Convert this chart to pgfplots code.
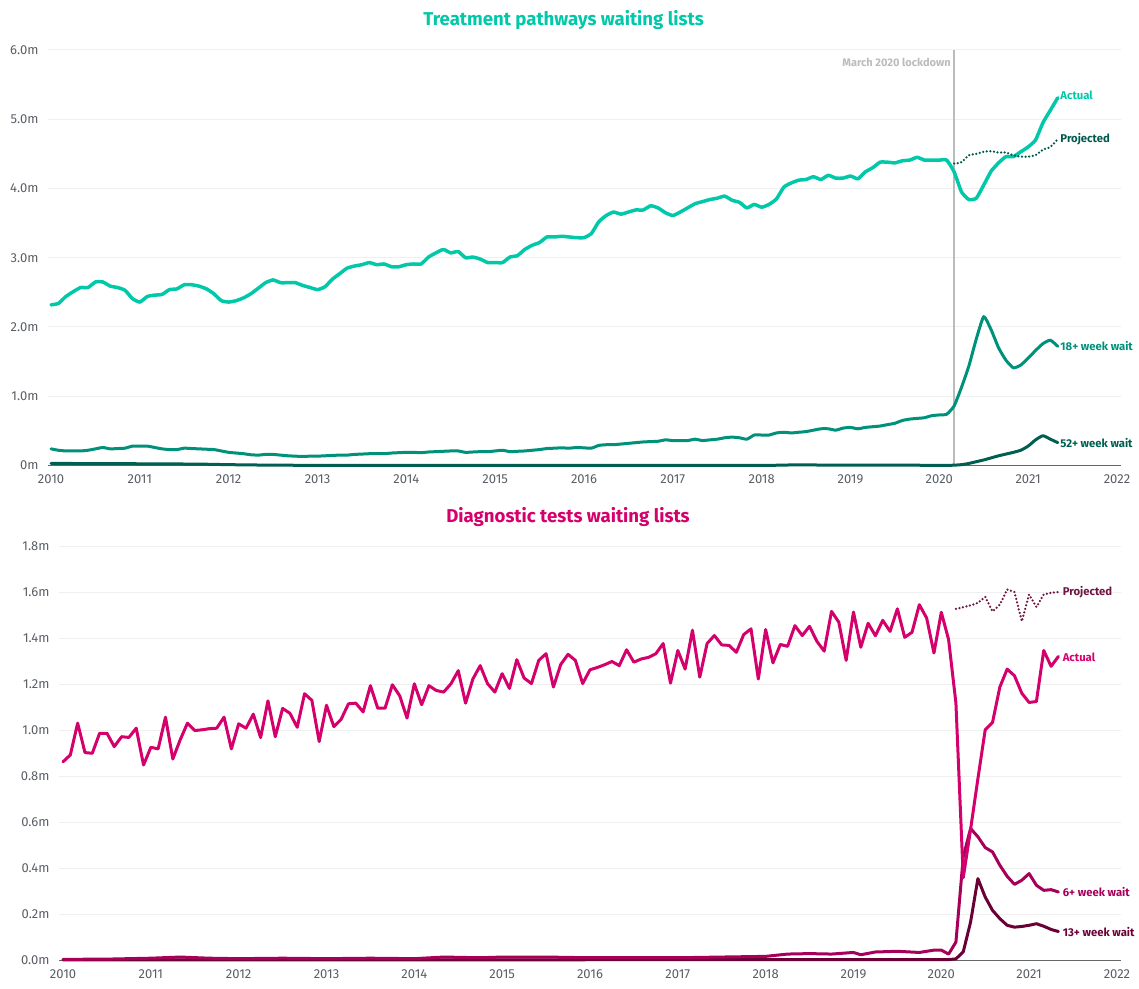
\documentclass[border=0pt]{standalone}
\usepackage{fontspec}
\setmainfont{Fira Sans}
\usepackage{pgfplots}
\usepackage{pgfplotstable}
\pgfplotsset{compat=1.18}

\definecolor{cTeal}{HTML}{00C8A8}
\definecolor{cTeal18}{HTML}{00917B}
\definecolor{cTeal52}{HTML}{005F50}
\definecolor{cTealProj}{HTML}{005A4C}
\definecolor{cMag}{HTML}{D4006C}
\definecolor{cMag6}{HTML}{A6005A}
\definecolor{cMag13}{HTML}{6B0036}
\definecolor{cMagProj}{HTML}{6E1541}
\definecolor{cGrid}{HTML}{EFEFEF}
\definecolor{cAxis}{HTML}{666666}
\definecolor{cTick}{HTML}{5A5F66}
\definecolor{cLock}{HTML}{BBBBBB}

% treatment pathways, month index from Jan 2010, value in millions
\pgfplotstableread[row sep=\\]{
i v\\
0 2.32\\ 1 2.34\\ 2 2.44\\ 3 2.51\\ 4 2.57\\ 5 2.57\\ 6 2.65\\ 7 2.65\\ 8 2.59\\ 9 2.57\\ 10 2.53\\ 11 2.41\\
12 2.36\\ 13 2.44\\ 14 2.46\\ 15 2.47\\ 16 2.54\\ 17 2.55\\ 18 2.61\\ 19 2.61\\ 20 2.59\\ 21 2.55\\ 22 2.48\\ 23 2.38\\
24 2.36\\ 25 2.38\\ 26 2.42\\ 27 2.48\\ 28 2.56\\ 29 2.64\\ 30 2.68\\ 31 2.64\\ 32 2.64\\ 33 2.64\\ 34 2.60\\ 35 2.57\\
36 2.54\\ 37 2.58\\ 38 2.69\\ 39 2.77\\ 40 2.85\\ 41 2.88\\ 42 2.90\\ 43 2.93\\ 44 2.90\\ 45 2.91\\ 46 2.87\\ 47 2.87\\
48 2.90\\ 49 2.91\\ 50 2.91\\ 51 3.01\\ 52 3.07\\ 53 3.12\\ 54 3.07\\ 55 3.09\\ 56 3.00\\ 57 3.01\\ 58 2.98\\ 59 2.93\\
60 2.93\\ 61 2.93\\ 62 3.01\\ 63 3.03\\ 64 3.12\\ 65 3.18\\ 66 3.22\\ 67 3.30\\ 68 3.30\\ 69 3.31\\ 70 3.30\\ 71 3.29\\
72 3.29\\ 73 3.35\\ 74 3.52\\ 75 3.61\\ 76 3.66\\ 77 3.63\\ 78 3.66\\ 79 3.69\\ 80 3.69\\ 81 3.75\\ 82 3.72\\ 83 3.65\\
84 3.61\\ 85 3.66\\ 86 3.72\\ 87 3.78\\ 88 3.81\\ 89 3.84\\ 90 3.86\\ 91 3.89\\ 92 3.83\\ 93 3.80\\ 94 3.72\\ 95 3.77\\
96 3.73\\ 97 3.77\\ 98 3.85\\ 99 4.02\\ 100 4.08\\ 101 4.12\\ 102 4.13\\ 103 4.17\\ 104 4.13\\ 105 4.19\\ 106 4.15\\ 107 4.15\\
108 4.18\\ 109 4.14\\ 110 4.24\\ 111 4.30\\ 112 4.38\\ 113 4.38\\ 114 4.37\\ 115 4.40\\ 116 4.41\\ 117 4.45\\ 118 4.41\\ 119 4.41\\
120 4.41\\ 121 4.41\\ 122 4.24\\ 123 3.95\\ 124 3.84\\ 125 3.86\\ 126 4.05\\ 127 4.25\\ 128 4.37\\ 129 4.46\\ 130 4.46\\ 131 4.53\\
132 4.60\\ 133 4.70\\ 134 4.95\\ 135 5.13\\ 136 5.31\\
}\topActual

\pgfplotstableread[row sep=\\]{
i v\\
0 0.24\\ 1 0.22\\ 2 0.21\\ 3 0.21\\ 4 0.21\\ 5 0.22\\ 6 0.24\\ 7 0.26\\ 8 0.24\\ 9 0.245\\ 10 0.25\\ 11 0.28\\
12 0.28\\ 13 0.28\\ 14 0.26\\ 15 0.24\\ 16 0.23\\ 17 0.23\\ 18 0.25\\ 19 0.245\\ 20 0.24\\ 21 0.235\\ 22 0.23\\ 23 0.21\\
24 0.19\\ 25 0.18\\ 26 0.17\\ 27 0.155\\ 28 0.15\\ 29 0.16\\ 30 0.16\\ 31 0.15\\ 32 0.14\\ 33 0.135\\ 34 0.13\\ 35 0.135\\
36 0.135\\ 37 0.14\\ 38 0.145\\ 39 0.15\\ 40 0.15\\ 41 0.16\\ 42 0.165\\ 43 0.17\\ 44 0.17\\ 45 0.17\\ 46 0.18\\ 47 0.185\\
48 0.19\\ 49 0.19\\ 50 0.185\\ 51 0.195\\ 52 0.20\\ 53 0.205\\ 54 0.21\\ 55 0.21\\ 56 0.19\\ 57 0.195\\ 58 0.20\\ 59 0.20\\
60 0.21\\ 61 0.22\\ 62 0.20\\ 63 0.205\\ 64 0.21\\ 65 0.22\\ 66 0.23\\ 67 0.245\\ 68 0.25\\ 69 0.255\\ 70 0.25\\ 71 0.26\\
72 0.255\\ 73 0.25\\ 74 0.29\\ 75 0.30\\ 76 0.30\\ 77 0.31\\ 78 0.32\\ 79 0.33\\ 80 0.34\\ 81 0.345\\ 82 0.35\\ 83 0.37\\
84 0.36\\ 85 0.36\\ 86 0.36\\ 87 0.38\\ 88 0.36\\ 89 0.37\\ 90 0.38\\ 91 0.40\\ 92 0.41\\ 93 0.40\\ 94 0.38\\ 95 0.44\\
96 0.44\\ 97 0.44\\ 98 0.47\\ 99 0.48\\ 100 0.47\\ 101 0.48\\ 102 0.49\\ 103 0.51\\ 104 0.53\\ 105 0.53\\ 106 0.51\\ 107 0.54\\
108 0.55\\ 109 0.53\\ 110 0.55\\ 111 0.56\\ 112 0.57\\ 113 0.59\\ 114 0.61\\ 115 0.65\\ 116 0.67\\ 117 0.68\\ 118 0.69\\ 119 0.72\\
120 0.73\\ 121 0.74\\ 122 0.86\\ 123 1.13\\ 124 1.44\\ 125 1.83\\ 126 2.15\\ 127 1.96\\ 128 1.70\\ 129 1.52\\ 130 1.41\\ 131 1.45\\
132 1.55\\ 133 1.66\\ 134 1.76\\ 135 1.81\\ 136 1.72\\
}\topEighteen

\pgfplotstableread[row sep=\\]{
i v\\
0 0.03\\ 12 0.025\\ 20 0.02\\ 24 0.012\\ 30 0.005\\ 40 0.002\\ 96 0.003\\ 100 0.008\\ 110 0.005\\ 121 0.003\\
122 0.005\\ 123 0.012\\ 124 0.03\\ 125 0.055\\ 126 0.08\\ 127 0.11\\ 128 0.14\\ 129 0.165\\ 130 0.19\\ 131 0.22\\
132 0.28\\ 133 0.37\\ 134 0.43\\ 135 0.38\\ 136 0.33\\
}\topFiftyTwo

\pgfplotstableread[row sep=\\]{
i v\\
122 4.36\\ 123 4.38\\ 124 4.48\\ 125 4.50\\ 126 4.53\\ 127 4.54\\ 128 4.52\\ 129 4.52\\ 130 4.48\\ 131 4.46\\
132 4.46\\ 133 4.48\\ 134 4.56\\ 135 4.60\\ 136 4.71\\
}\topProjected

% diagnostic tests
\pgfplotstableread[row sep=\\]{
i v\\
0 0.864\\ 1 0.894\\ 2 1.032\\ 3 0.904\\ 4 0.901\\ 5 0.988\\ 6 0.988\\ 7 0.930\\ 8 0.973\\ 9 0.970\\ 10 1.010\\ 11 0.850\\
12 0.927\\ 13 0.920\\ 14 1.058\\ 15 0.876\\ 16 0.959\\ 17 1.032\\ 18 1.000\\ 19 1.003\\ 20 1.008\\ 21 1.010\\ 22 1.058\\ 23 0.920\\
24 1.029\\ 25 1.010\\ 26 1.071\\ 27 0.969\\ 28 1.129\\ 29 0.973\\ 30 1.096\\ 31 1.075\\ 32 1.014\\ 33 1.160\\ 34 1.131\\ 35 0.952\\
36 1.110\\ 37 1.017\\ 38 1.049\\ 39 1.116\\ 40 1.119\\ 41 1.081\\ 42 1.195\\ 43 1.097\\ 44 1.097\\ 45 1.199\\ 46 1.151\\ 47 1.054\\
48 1.203\\ 49 1.112\\ 50 1.195\\ 51 1.174\\ 52 1.167\\ 53 1.203\\ 54 1.260\\ 55 1.119\\ 56 1.224\\ 57 1.282\\ 58 1.204\\ 59 1.167\\
60 1.247\\ 61 1.183\\ 62 1.308\\ 63 1.228\\ 64 1.204\\ 65 1.305\\ 66 1.334\\ 67 1.189\\ 68 1.287\\ 69 1.331\\ 70 1.305\\ 71 1.204\\
72 1.264\\ 73 1.274\\ 74 1.286\\ 75 1.300\\ 76 1.282\\ 77 1.351\\ 78 1.297\\ 79 1.311\\ 80 1.318\\ 81 1.334\\ 82 1.378\\ 83 1.206\\
84 1.348\\ 85 1.267\\ 86 1.436\\ 87 1.232\\ 88 1.378\\ 89 1.413\\ 90 1.372\\ 91 1.370\\ 92 1.340\\ 93 1.417\\ 94 1.442\\ 95 1.224\\
96 1.439\\ 97 1.294\\ 98 1.374\\ 99 1.366\\ 100 1.456\\ 101 1.413\\ 102 1.453\\ 103 1.388\\ 104 1.345\\ 105 1.518\\ 106 1.471\\ 107 1.305\\
108 1.515\\ 109 1.362\\ 110 1.466\\ 111 1.412\\ 112 1.479\\ 113 1.431\\ 114 1.529\\ 115 1.405\\ 116 1.427\\ 117 1.547\\ 118 1.489\\ 119 1.337\\
120 1.514\\ 121 1.395\\ 122 1.119\\ 123 0.360\\ 124 0.570\\ 125 0.790\\ 126 1.003\\ 127 1.035\\ 128 1.189\\ 129 1.267\\ 130 1.238\\ 131 1.162\\
132 1.122\\ 133 1.126\\ 134 1.348\\ 135 1.279\\ 136 1.322\\
}\diagActual

\pgfplotstableread[row sep=\\]{
i v\\
0 0.005\\ 6 0.006\\ 12 0.010\\ 16 0.015\\ 20 0.010\\ 24 0.008\\ 30 0.010\\ 36 0.008\\ 42 0.010\\ 48 0.008\\
52 0.015\\ 57 0.012\\ 60 0.015\\ 66 0.015\\ 72 0.012\\ 78 0.012\\ 84 0.012\\ 90 0.015\\ 96 0.018\\ 99 0.028\\
102 0.030\\ 105 0.028\\ 108 0.035\\ 109 0.025\\ 111 0.037\\ 114 0.040\\ 117 0.035\\ 119 0.045\\ 120 0.045\\ 121 0.028\\
122 0.080\\ 123 0.450\\ 124 0.574\\ 125 0.538\\ 126 0.491\\ 127 0.472\\ 128 0.414\\ 129 0.366\\ 130 0.331\\ 131 0.349\\
132 0.378\\ 133 0.327\\ 134 0.305\\ 135 0.308\\ 136 0.298\\
}\diagSix

\pgfplotstableread[row sep=\\]{
i v\\
0 0.003\\ 60 0.003\\ 100 0.004\\ 121 0.004\\ 122 0.007\\ 123 0.038\\ 124 0.167\\ 125 0.356\\ 126 0.276\\ 127 0.218\\
128 0.182\\ 129 0.153\\ 130 0.145\\ 131 0.148\\ 132 0.153\\ 133 0.160\\ 134 0.149\\ 135 0.135\\ 136 0.126\\
}\diagThirteen

\pgfplotstableread[row sep=\\]{
i v\\
122 1.529\\ 123 1.536\\ 124 1.544\\ 125 1.555\\ 126 1.581\\ 127 1.518\\ 128 1.547\\ 129 1.613\\ 130 1.602\\ 131 1.475\\
132 1.591\\ 133 1.537\\ 134 1.591\\ 135 1.599\\ 136 1.602\\
}\diagProjected

\pgfplotsset{
  panel/.style={
    scale only axis, anchor=south west, clip=false,
    axis x line*=bottom, axis y line*=left,
    x axis line style={-, draw=cAxis, line width=1pt},
    y axis line style={draw=none},
    xtick style={draw=none}, ytick style={draw=none},
    ymajorgrids, major grid style={draw=cGrid, line width=1pt},
    xtick={2010,2011,...,2022},
    xticklabels={2010,2011,2012,2013,2014,2015,2016,2017,2018,2019,2020,2021,2022},
    tick label style={font=\fontsize{13}{15}\selectfont, text=cTick},
    xticklabel style={yshift=-6pt},
    yticklabel style={xshift=-6pt},
  },
  series/.style={line width=3pt, line join=round, line cap=round},
}
\tikzset{serieslabel/.style={font=\fontsize{11.3}{13}\selectfont\bfseries, anchor=west, inner sep=1pt}}

\begin{document}
\begin{tikzpicture}
\useasboundingbox (0pt,0pt) rectangle (1139pt,988pt);

\node[font=\fontsize{18.6}{22}\selectfont\bfseries, text=cTeal] at (563.5pt,968pt) {Treatment pathways waiting lists};
\node[font=\fontsize{18.6}{22}\selectfont\bfseries, text=cMag] at (568pt,471pt) {Diagnostic tests waiting lists};

% top panel
\begin{axis}[panel, at={(48pt,522.5pt)}, width=1073pt, height=415.5pt,
  xmin=2009.966, xmax=2022.045, ymin=0, ymax=6,
  ytick={0,1,2,3,4,5,6},
  yticklabels={0m,1.0m,2.0m,3.0m,4.0m,5.0m,6.0m}]
  \addplot[cLock, line width=1.5pt] coordinates {(2020.1667,0) (2020.1667,6)};
  \addplot[series, cTeal52, smooth, tension=0.3] table[x expr=2010+\thisrow{i}/12, y=v] {\topFiftyTwo};
  \addplot[series, cTeal18, smooth, tension=0.3] table[x expr=2010+\thisrow{i}/12, y=v] {\topEighteen};
  \addplot[series, cTeal, line width=3.5pt, smooth, tension=0.3] table[x expr=2010+\thisrow{i}/12, y=v] {\topActual};
  \addplot[cTealProj, line width=2.5pt, line cap=round, dash pattern=on 0pt off 3.6pt, smooth, tension=0.3] table[x expr=2010+\thisrow{i}/12, y=v] {\topProjected};
  \node[font=\fontsize{11}{13}\selectfont\bfseries, text=cLock, anchor=east] at (axis cs:2020.1667,5.82) {March 2020 lockdown\hspace{7pt}};
  \node[serieslabel, text=cTeal] at (axis cs:2021.35,5.35) {Actual};
  \node[serieslabel, text=cTealProj] at (axis cs:2021.35,4.71) {Projected};
  \node[serieslabel, text=cTeal18] at (axis cs:2021.35,1.72) {18+ week wait};
  \node[serieslabel, text=cTeal52] at (axis cs:2021.35,0.32) {52+ week wait};
\end{axis}

% bottom panel
\begin{axis}[panel, at={(59pt,27.5pt)}, width=1062pt, height=414pt,
  xmin=2009.954, xmax=2022.046, ymin=0, ymax=1.8,
  ytick={0,0.2,0.4,0.6,0.8,1.0,1.2,1.4,1.6,1.8},
  yticklabels={0.0m,0.2m,0.4m,0.6m,0.8m,1.0m,1.2m,1.4m,1.6m,1.8m}]
  \addplot[series, cMag13] table[x expr=2010+\thisrow{i}/12, y=v] {\diagThirteen};
  \addplot[series, cMag6] table[x expr=2010+\thisrow{i}/12, y=v] {\diagSix};
  \addplot[series, cMag] table[x expr=2010+\thisrow{i}/12, y=v] {\diagActual};
  \addplot[cMagProj, line width=2.5pt, line cap=round, dash pattern=on 0pt off 3.6pt] table[x expr=2010+\thisrow{i}/12, y=v] {\diagProjected};
  \node[serieslabel, text=cMagProj] at (axis cs:2021.37,1.60) {Projected};
  \node[serieslabel, text=cMag] at (axis cs:2021.37,1.32) {Actual};
  \node[serieslabel, text=cMag6] at (axis cs:2021.37,0.296) {6+ week wait};
  \node[serieslabel, text=cMag13] at (axis cs:2021.37,0.126) {13+ week wait};
\end{axis}
\end{tikzpicture}
\end{document}
